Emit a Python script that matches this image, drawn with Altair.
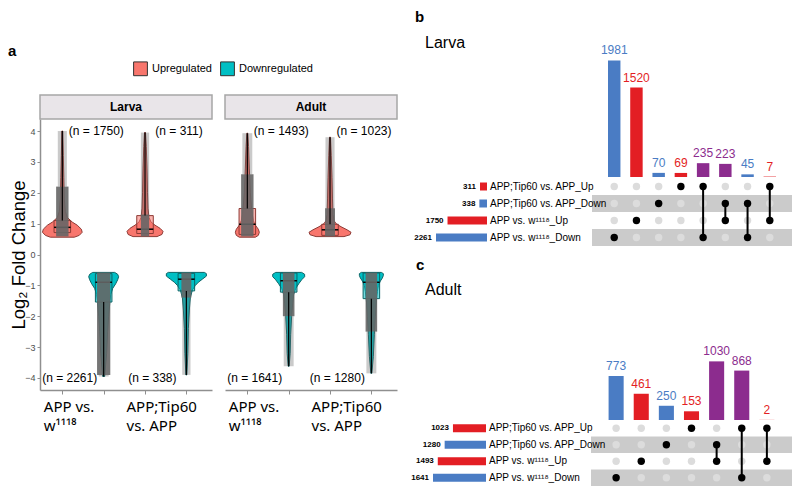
import json
import altair as alt
import pandas as pd

# ---------------- panel a data ----------------
stages = ["Larva", "Adult"]
comparisons = ["APP vs. w1118", "APP;Tip60 vs. APP"]
comparison_lines = [["APP vs.", " w¹¹¹⁸"], ["APP;Tip60", " vs. APP"]]
directions = ["Upregulated", "Downregulated"]
y_ticks = [-4, -3, -2, -1, 0, 1, 2, 3, 4]
threshold = 0.585

# violin order: stage x comparison x direction
n_genes = [1750, 2261, 311, 338, 1493, 1641, 1023, 1280]

larva_app_up_lfc = [0.56, 0.62, 0.72, 0.82, 0.95, 1.05, 1.2, 1.4, 1.8, 2.5, 3.2, 4.0]
larva_app_up_w = [0.145, 0.205, 0.24, 0.23, 0.18, 0.12, 0.06, 0.036, 0.024, 0.018, 0.012, 0.006]
larva_app_down_lfc = [-0.58, -0.64, -0.72, -0.82, -0.95, -1.1, -1.3, -1.6, -2.0, -2.5, -3.2, -3.95]
larva_app_down_w = [0.133, 0.169, 0.181, 0.169, 0.145, 0.109, 0.085, 0.073, 0.06, 0.048, 0.036, 0.012]
larva_tip_up_lfc = [0.58, 0.65, 0.75, 0.85, 0.95, 1.05, 1.2, 1.5, 2.0, 2.8, 3.5, 3.95]
larva_tip_up_w = [0.145, 0.205, 0.218, 0.181, 0.121, 0.073, 0.048, 0.036, 0.03, 0.024, 0.015, 0.006]
larva_tip_down_lfc = [-0.58, -0.62, -0.7, -0.8, -0.9, -1.0, -1.15, -1.4, -1.8, -2.4, -3.2, -3.9]
larva_tip_down_w = [0.218, 0.242, 0.242, 0.193, 0.145, 0.109, 0.073, 0.048, 0.036, 0.024, 0.018, 0.006]
adult_app_up_lfc = [0.56, 0.62, 0.72, 0.82, 0.95, 1.1, 1.3, 1.6, 2.0, 2.8, 3.5, 3.93]
adult_app_up_w = [0.097, 0.133, 0.145, 0.133, 0.097, 0.073, 0.06, 0.048, 0.036, 0.024, 0.015, 0.006]
adult_app_down_lfc = [-0.58, -0.64, -0.72, -0.82, -0.95, -1.1, -1.3, -1.6, -2.0, -2.6, -3.2, -3.62]
adult_app_down_w = [0.157, 0.193, 0.193, 0.157, 0.121, 0.085, 0.06, 0.048, 0.036, 0.024, 0.018, 0.006]
adult_tip_up_lfc = [0.58, 0.64, 0.72, 0.8, 0.9, 1.0, 1.1, 1.3, 1.8, 2.5, 3.2, 3.8]
adult_tip_up_w = [0.169, 0.242, 0.254, 0.206, 0.133, 0.073, 0.048, 0.036, 0.03, 0.024, 0.015, 0.006]
adult_tip_down_lfc = [-0.58, -0.62, -0.68, -0.76, -0.86, -1.0, -1.2, -1.5, -2.0, -2.6, -3.3, -3.85]
adult_tip_down_w = [0.121, 0.145, 0.145, 0.133, 0.109, 0.085, 0.073, 0.06, 0.048, 0.036, 0.024, 0.006]

box_lower = [0.71, -1.54, 0.68, -1.18, 0.65, -1.22, 0.62, -1.43]
box_median = [0.88, -0.90, 0.82, -0.80, 0.98, -0.85, 0.80, -0.90]
box_upper = [1.10, -0.62, 1.26, -0.61, 1.49, -0.60, 0.98, -0.60]
lfc_min = [0.58, -3.95, 0.58, -3.90, 0.56, -3.62, 0.58, -3.85]
lfc_max = [4.00, -0.58, 3.95, -0.58, 3.93, -0.58, 3.80, -0.58]
dense_edge = [2.2, -3.9, 1.3, -1.4, 2.6, -2.0, 1.5, -2.5]
cloud_w_dense = [0.075, 0.08, 0.05, 0.06, 0.075, 0.07, 0.06, 0.07]
cloud_w_sparse = [0.055, 0.06, 0.05, 0.05, 0.06, 0.06, 0.055, 0.06]

profiles = [
    (larva_app_up_lfc, larva_app_up_w), (larva_app_down_lfc, larva_app_down_w),
    (larva_tip_up_lfc, larva_tip_up_w), (larva_tip_down_lfc, larva_tip_down_w),
    (adult_app_up_lfc, adult_app_up_w), (adult_app_down_lfc, adult_app_down_w),
    (adult_tip_up_lfc, adult_tip_up_w), (adult_tip_down_lfc, adult_tip_down_w),
]

# ---------------- panels b / c data ----------------
set_names = ["APP;Tip60 vs. APP_Up", "APP;Tip60 vs. APP_Down", "APP vs. w¹¹¹⁸_Up", "APP vs. w¹¹¹⁸_Down"]

larva_set_sizes = [311, 338, 1750, 2261]
larva_counts = [1981, 1520, 70, 69, 235, 223, 45, 7]
larva_members = [[3], [2], [1], [0], [0, 3], [1, 2], [1, 3], [0, 2]]

adult_set_sizes = [1023, 1280, 1493, 1641]
adult_counts = [773, 461, 250, 153, 1030, 868, 2]
adult_members = [[3], [2], [1], [0], [1, 2], [0, 3], [0, 2]]

bar_ticks = [0, 500, 1000, 1500, 2000, 2500]
bar_max = 2600

# ---------------- styles / layout (pixel ranges of the scales) ----------------
UP_FILL, DOWN_FILL = "#F8766D", "#00BFC4"
UP_LINE, DOWN_LINE = "#8E3B36", "#0B6466"
BLUE, RED, PURPLE = "#4A7CC4", "#E31E24", "#8C2C8E"
AXIS_GREY = "#8F8F8F"
FONT = "Liberation Sans"
SUP_FONT = "Noto Sans"

W, H = 784, 478
X_DOMAIN = [0.48, 2.56]
Y_DOMAIN = [-4.39, 4.39]
A_Y_RANGE = [382, 111]
A_X_RANGES = {"Larva": [32, 204], "Adult": [217, 389]}
STRIP_Y_RANGE = [87, 111]
DODGE = 0.25
BOX_HW = 0.1
Y_TITLE = "Log₂ Fold Change"

# ---------------- build panel a tables ----------------
viol_rows, box_rows, cloud_rows, n_rows = [], [], [], []
i = 0
for s in stages:
    for ci, c in enumerate(comparisons):
        for d in directions:
            up = d == "Upregulated"
            center = (ci + 1) + (-DODGE if up else DODGE)
            vid = f"{s}|{c}|{d}"
            lfcs, ws = profiles[i]
            for y, w in zip(lfcs, ws):
                viol_rows.append(dict(stage=s, vid=vid, direction=d, lfc=y,
                                      left=center - w, right=center + w,
                                      line=UP_LINE if up else DOWN_LINE))
            box_rows.append(dict(stage=s, vid=vid, direction=d, center=center,
                                 bl=center - BOX_HW, br=center + BOX_HW,
                                 lo=box_lower[i], hi=box_upper[i], med=box_median[i],
                                 w_lo=box_upper[i] if up else lfc_min[i],
                                 w_hi=lfc_max[i] if up else box_lower[i],
                                 line=UP_LINE if up else DOWN_LINE))
            if up:
                segs = [(threshold, dense_edge[i], cloud_w_dense[i], 0.9),
                        (dense_edge[i], lfc_max[i], cloud_w_sparse[i], 0.35)]
            else:
                segs = [(dense_edge[i], -threshold, cloud_w_dense[i], 0.9),
                        (lfc_min[i], dense_edge[i], cloud_w_sparse[i], 0.35)]
            for lo, hi, w, a in segs:
                cloud_rows.append(dict(stage=s, vid=vid, c_lo=lo, c_hi=hi,
                                       cl=center - w, cr=center + w, alpha=a))
            n_rows.append(dict(stage=s, direction=d, center=center,
                               ny=max(y_ticks) if up else min(y_ticks),
                               label=f"(n = {n_genes[i]})"))
            i += 1

viol_df = pd.DataFrame(viol_rows)
box_df = pd.DataFrame(box_rows)
cloud_df = pd.DataFrame(cloud_rows)
n_df = pd.DataFrame(n_rows)

tick_vals = [g + dd for g in (1, 2) for dd in (-DODGE, DODGE)]
label_expr = "datum.value == {a} ? {la} : (datum.value == {b} ? {lb} : '')".format(
    a=1 - DODGE, la=json.dumps(comparison_lines[0], ensure_ascii=False),
    b=2 - DODGE, lb=json.dumps(comparison_lines[1], ensure_ascii=False))

color_scale = alt.Scale(domain=directions, range=[UP_FILL, DOWN_FILL])


def stage_plot(stage, first):
    v = viol_df[viol_df.stage == stage]
    b = box_df[box_df.stage == stage]
    cl = cloud_df[cloud_df.stage == stage]
    nn = n_df[n_df.stage == stage]
    xs = alt.Scale(domain=X_DOMAIN, range=A_X_RANGES[stage], nice=False, zero=False)
    ys = alt.Scale(domain=Y_DOMAIN, range=A_Y_RANGE, nice=False, zero=False)
    xaxis = alt.Axis(values=tick_vals, labelExpr=label_expr, labelAlign="left", labelOffset=-19,
                     labelFont=SUP_FONT, labelFontSize=15, labelLineHeight=19, labelPadding=5,
                     labelColor="black", labelBaseline="top", labelOverlap=False, labelFlush=False,
                     tickSize=4, tickColor=AXIS_GREY, domainColor=AXIS_GREY, domainWidth=1.5,
                     grid=False, title=None, orient="bottom", offset=A_Y_RANGE[0] - H)
    yaxis = (alt.Axis(values=y_ticks, format="d", labelFontSize=9, labelColor="#4D4D4D",
                      tickSize=3, tickColor=AXIS_GREY, domainColor=AXIS_GREY, domainWidth=1.5,
                      grid=False, title=Y_TITLE, titleFontSize=18.5,
                      titleFontWeight="normal", titleColor="black",
                      titleX=-12, titleBaseline="bottom",
                      orient="left", offset=-A_X_RANGES[stage][0])
             if first else None)
    ytitle = Y_TITLE if first else ""
    legend = (alt.Legend(orient="none", legendX=125, legendY=53, direction="horizontal",
                         title=None, symbolType="square", symbolSize=190,
                         symbolStrokeColor="#333333", symbolStrokeWidth=1,
                         labelFontSize=11, labelColor="black", columnPadding=6,
                         labelOffset=4)
              if first else None)
    violin = alt.Chart(v).mark_area(orient="horizontal", strokeWidth=1).encode(
        y=alt.Y("lfc:Q", scale=ys, axis=yaxis, title=ytitle),
        x=alt.X("left:Q", scale=xs, axis=xaxis, title=None, stack=None),
        x2="right:Q",
        color=alt.Color("direction:N", scale=color_scale, legend=legend),
        stroke=alt.Stroke("line:N", scale=None),
        detail="vid:N",
    )
    box = alt.Chart(b).mark_rect(strokeWidth=1, fillOpacity=0.55).encode(
        x=alt.X("bl:Q", title=None), x2="br:Q",
        y=alt.Y("lo:Q", title=ytitle), y2="hi:Q",
        color=alt.Color("direction:N", scale=color_scale, legend=legend),
        stroke=alt.Stroke("line:N", scale=None),
    )
    med = alt.Chart(b).mark_rule(color="black", strokeWidth=1.5).encode(
        x=alt.X("bl:Q", title=None), x2="br:Q", y=alt.Y("med:Q", title=ytitle))
    cloud = alt.Chart(cl).mark_rect(color="#666666").encode(
        x=alt.X("cl:Q", title=None), x2="cr:Q",
        y=alt.Y("c_lo:Q", title=ytitle), y2="c_hi:Q",
        opacity=alt.Opacity("alpha:Q", scale=None))
    whisk = alt.Chart(b).mark_rule(color="black", strokeWidth=1.2).encode(
        x=alt.X("center:Q", title=None), y=alt.Y("w_lo:Q", title=ytitle), y2="w_hi:Q")
    n_up = alt.Chart(nn[nn.direction == "Upregulated"]).mark_text(
        fontSize=12, dx=34, color="black").encode(
        x=alt.X("center:Q", title=None), y=alt.Y("ny:Q", title=ytitle), text="label:N")
    n_dn = alt.Chart(nn[nn.direction == "Downregulated"]).mark_text(
        fontSize=12, dx=-34, color="black").encode(
        x=alt.X("center:Q", title=None), y=alt.Y("ny:Q", title=ytitle), text="label:N")
    return alt.layer(violin, box, med, cloud, whisk, n_up, n_dn)


# facet strips driven by a band scale over the two stage panels
bw = A_X_RANGES["Larva"][1] - A_X_RANGES["Larva"][0]
gap = A_X_RANGES["Adult"][0] - A_X_RANGES["Larva"][1]
strip_x = alt.Scale(domain=stages, range=[A_X_RANGES["Larva"][0], A_X_RANGES["Adult"][1]],
                    paddingInner=gap / (bw + gap), paddingOuter=0)
strip_y = alt.Scale(domain=["strip"], range=STRIP_Y_RANGE, paddingInner=0, paddingOuter=0)
strip_df = pd.DataFrame({"stage": stages, "row": ["strip"] * len(stages)})
strip_rect = alt.Chart(strip_df).mark_rect(fill="#E9E5E9", stroke="#A6A6A6", strokeWidth=1.5).encode(
    x=alt.X("stage:N", scale=strip_x, axis=None), y=alt.Y("row:N", scale=strip_y, axis=None))
strip_txt = alt.Chart(strip_df).mark_text(fontSize=12, fontWeight="bold", color="black").encode(
    x=alt.X("stage:N", scale=strip_x, axis=None), y=alt.Y("row:N", scale=strip_y, axis=None),
    text="stage:N")
strips = alt.layer(strip_rect, strip_txt)

letter_a = alt.Chart(pd.DataFrame({"t": ["a"]})).mark_text(
    align="left", baseline="alphabetic", fontSize=15, fontWeight="bold", color="black").encode(
    text="t:N", x=alt.value(0), y=alt.value(48))


# ---------------- upset panels ----------------
def kind_color(members):
    sfx = {set_names[m].rsplit("_", 1)[1] for m in members}
    if sfx == {"Up"}:
        return RED
    if sfx == {"Down"}:
        return BLUE
    return PURPLE


def upset(letter, stage, set_sizes, counts, members, set_xr, main_xr, bar_yr, mat_yr,
          bar_frac, letter_xy, stage_xy):
    ids = [f"I{k + 1}" for k in range(len(counts))]
    bars_df = pd.DataFrame(dict(id=ids, count=counts, col=[kind_color(m) for m in members]))
    dots_df = pd.DataFrame([dict(id=ids[k], set=set_names[j],
                                 col="black" if j in members[k] else "#DCDCDC")
                            for k in range(len(ids)) for j in range(len(set_names))])
    lines_df = pd.DataFrame([dict(id=ids[k], top=set_names[min(m)], bottom=set_names[max(m)])
                             for k, m in enumerate(members) if len(m) > 1])
    band_df = pd.DataFrame(dict(set=[s for j, s in enumerate(set_names) if j % 2 == 1],
                                key="matrix"))
    set_df = pd.DataFrame(dict(set=set_names, size=set_sizes, zero=0,
                               col=[RED if s.endswith("_Up") else BLUE for s in set_names]))

    xsc = alt.Scale(domain=ids, range=main_xr, paddingInner=0, paddingOuter=0.5)
    ysc = alt.Scale(domain=set_names, range=mat_yr, paddingInner=0, paddingOuter=0)
    bsc = alt.Scale(domain=[0, bar_max], range=bar_yr, nice=False, zero=True)

    bars = alt.Chart(bars_df).mark_bar(width=alt.RelativeBandSize(bar_frac)).encode(
        x=alt.X("id:N", scale=xsc, axis=None, sort=ids),
        y=alt.Y("count:Q", scale=bsc,
                axis=alt.Axis(values=bar_ticks, format="d", labelFontSize=6, labelColor="#555555",
                              tickSize=2, tickColor=AXIS_GREY, domainColor=AXIS_GREY,
                              domainWidth=1.5, labelPadding=1, grid=False,
                              orient="left", offset=-main_xr[0]), title=None),
        color=alt.Color("col:N", scale=None))
    bar_txt = alt.Chart(bars_df).mark_text(dy=-10, fontSize=12).encode(
        x=alt.X("id:N", scale=xsc, axis=None, sort=ids),
        y=alt.Y("count:Q", scale=bsc, axis=None), text="count:Q",
        color=alt.Color("col:N", scale=None))
    top = alt.layer(bars, bar_txt)

    band = alt.Chart(band_df).mark_rect(color="#CBCBCB").encode(
        x=alt.X("key:N", scale=alt.Scale(domain=["matrix"], range=main_xr,
                                         paddingInner=0, paddingOuter=0), axis=None),
        y=alt.Y("set:N", scale=ysc, axis=None, sort=set_names))
    dots = alt.Chart(dots_df).mark_circle(size=55, opacity=1).encode(
        x=alt.X("id:N", scale=xsc, axis=None, sort=ids),
        y=alt.Y("set:N", scale=ysc, axis=None, sort=set_names),
        color=alt.Color("col:N", scale=None))
    links = alt.Chart(lines_df).mark_rule(color="black", strokeWidth=2).encode(
        x=alt.X("id:N", scale=xsc, axis=None, sort=ids),
        y=alt.Y("top:N", scale=ysc, axis=None, sort=set_names), y2="bottom:N")
    matrix = alt.layer(dots, links)

    ss_x = alt.Scale(domain=[0, max(set_sizes)], range=set_xr, nice=False, zero=True)
    ss_bar = alt.Chart(set_df).mark_bar(height=alt.RelativeBandSize(0.47)).encode(
        y=alt.Y("set:N", scale=ysc, axis=None, sort=set_names),
        x=alt.X("size:Q", scale=ss_x, axis=None), x2="zero:Q",
        color=alt.Color("col:N", scale=None))
    ss_num = alt.Chart(set_df).mark_text(align="right", dx=-4, fontSize=8, fontWeight="bold",
                                         color="black").encode(
        y=alt.Y("set:N", scale=ysc, axis=None, sort=set_names),
        x=alt.X("size:Q", scale=ss_x, axis=None), text="size:Q")
    ss_lab = alt.Chart(set_df).mark_text(align="left", dx=3, fontSize=10, color="black").encode(
        y=alt.Y("set:N", scale=ysc, axis=None, sort=set_names),
        x=alt.X("zero:Q", scale=ss_x, axis=None), text="set:N")
    setsize = alt.layer(ss_bar, ss_num, ss_lab)

    t_letter = alt.Chart(pd.DataFrame({"t": [letter]})).mark_text(
        align="left", baseline="alphabetic", fontSize=15, fontWeight="bold", color="black").encode(
        text="t:N", x=alt.value(letter_xy[0]), y=alt.value(letter_xy[1]))
    t_stage = alt.Chart(pd.DataFrame({"t": [stage]})).mark_text(
        align="left", baseline="alphabetic", fontSize=16, color="black").encode(
        text="t:N", x=alt.value(stage_xy[0]), y=alt.value(stage_xy[1]))
    return [band, top, matrix, setsize, t_letter, t_stage]


panel_b = upset("b", "Larva", larva_set_sizes, larva_counts, larva_members,
                set_xr=[479, 428], main_xr=[584, 784], bar_yr=[169, 16], mat_yr=[170, 238],
                bar_frac=0.56, letter_xy=(407, 14), stage_xy=(417, 40))
panel_c = upset("c", "Adult", adult_set_sizes, adult_counts, adult_members,
                set_xr=[478, 425], main_xr=[583, 784], bar_yr=[412, 264], mat_yr=[412, 478],
                bar_frac=0.6, letter_xy=(408, 262), stage_xy=(417, 287))

chart = alt.layer(
    strips, letter_a, stage_plot("Larva", True), stage_plot("Adult", False),
    *panel_b, *panel_c,
).resolve_scale(x="independent", y="independent").properties(
    width=W, height=H, autosize=alt.AutoSizeParams(type="none"), padding=0
).configure(font=FONT).configure_view(stroke=None)

chart.save("out.html", embed_options={"renderer": "svg", "actions": False})
